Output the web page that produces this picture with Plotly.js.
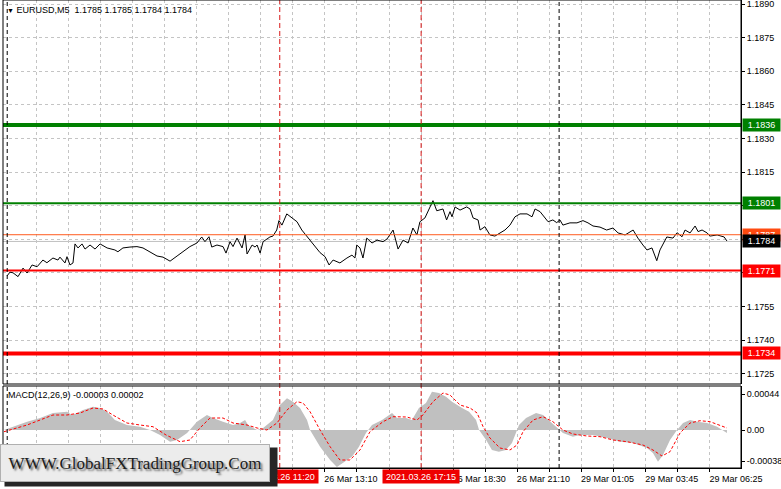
<!DOCTYPE html>
<html><head><meta charset="utf-8">
<script src="https://cdn.plot.ly/plotly-3.0.1.min.js"></script>
<style>html,body{margin:0;padding:0;background:#fff;overflow:hidden}#chart{width:781px;height:489px}</style>
</head><body><div id="chart"></div>
<script>
// ---------- data ----------
// price line (bar index, close)
const priceBars = [1.5,3.0,4.5,7.0,9.5,11.5,14.0,16.5,19.4,21.4,
24.4,26.9,27.9,30.4,31.4,32.9,34.4,35.4,36.9,38.9,
40.4,42.9,45.4,47.9,51.4,55.3,56.8,59.3,62.8,66.3,
69.3,72.8,76.3,79.3,82.8,86.3,89.3,92.7,96.2,98.6,
100.2,102.2,103.6,106.2,109.2,110.7,112.7,114.2,116.2,118.7,
120.2,121.2,123.7,125.2,126.2,127.7,129.2,132.6,134.1,136.0,
137.1,138.6,141.0,143.6,146.1,148.5,151.1,153.6,155.9,157.6,
160.1,162.1,164.1,167.5,171.0,173.5,175.0,175.9,177.5,179.0,
180.9,183.5,186.0,189.0,191.0,194.0,196.5,199.0,201.5,203.9,
205.9,207.4,209.9,212.4,213.9,215.8,218.9,220.7,222.4,223.4,
224.9,227.4,230.7,232.4,233.9,236.4,237.4,239.8,242.3,244.8,
247.3,249.8,252.3,254.8,257.3,260.8,263.3,264.8,267.3,269.8,
271.3,273.7,275.6,277.2,278.7,282.2,285.7,288.7,291.2,293.7,
297.2,300.5,303.7,306.2,309.7,313.7,316.1,318.6,320.6,323.1,
325.5,327.1,330.5,333.6,335.6,338.1,339.6,342.1,344.6,346.1,
348.1,350.6,352.1,355.6,357.1,359.1,360.5];
const priceClose = [1.17686,1.17703,1.17700,1.17683,1.17721,1.17699,1.17735,1.17727,1.17757,1.17745,
1.17766,1.17757,1.17770,1.17744,1.17772,1.17735,1.17744,1.17829,1.17811,1.17829,
1.17806,1.17824,1.17806,1.17829,1.17811,1.17802,1.17794,1.17811,1.17815,1.17817,
1.17811,1.17794,1.17775,1.17770,1.17752,1.17775,1.17794,1.17817,1.17833,1.17860,
1.17839,1.17861,1.17815,1.17824,1.17817,1.17788,1.17839,1.17817,1.17855,1.17811,
1.17869,1.17784,1.17824,1.17815,1.17824,1.17788,1.17839,1.17860,1.17864,1.17891,
1.17933,1.17913,1.17963,1.17945,1.17928,1.17891,1.17861,1.17833,1.17811,1.17790,
1.17772,1.17735,1.17757,1.17744,1.17766,1.17779,1.17766,1.17824,1.17811,1.17766,
1.17855,1.17833,1.17846,1.17839,1.17851,1.17891,1.17806,1.17846,1.17833,1.17900,
1.17869,1.17928,1.17945,1.17995,1.18022,1.17977,1.17985,1.17936,1.17973,1.17950,
1.17994,1.17980,1.17994,1.17985,1.17945,1.17936,1.17891,1.17906,1.17869,1.17864,
1.17878,1.17891,1.17913,1.17950,1.17963,1.17963,1.17950,1.17985,1.17973,1.17945,
1.17928,1.17936,1.17924,1.17936,1.17913,1.17923,1.17923,1.17933,1.17923,1.17909,
1.17904,1.17891,1.17900,1.17878,1.17869,1.17891,1.17855,1.17824,1.17802,1.17811,
1.17754,1.17802,1.17860,1.17855,1.17879,1.17861,1.17891,1.17878,1.17909,1.17884,
1.17891,1.17878,1.17864,1.17869,1.17864,1.17860,1.17842];

// MACD histogram
const histBars = [0,4.5,11.5,18.0,24.4,31.4,33.9,36.4,39.4,44.4,
47.9,51.4,55.3,61.3,67.8,72.8,77.8,82.8,86.3,91.3,
96.2,101.2,104.2,109.2,114.2,117.7,120.2,121.7,126.2,129.2,
134.1,137.6,141.1,144.1,147.6,151.1,152.6,157.6,162.6,166.0,
173.5,177.0,180.5,183.5,188.5,193.5,196.0,200.5,203.4,206.9,
210.4,213.4,216.9,220.4,223.4,228.4,231.9,235.4,236.9,240.4,
243.3,246.8,250.3,253.3,255.3,256.8,260.3,265.3,268.8,272.3,
275.8,278.7,283.7,287.2,293.7,300.7,307.2,313.7,320.6,323.6,
326.1,328.6,332.1,335.6,338.6,342.1,345.6,350.6,355.6,360.5];
const histValues = [0,3.3e-5,8.3e-5,12e-5,17e-5,18.3e-5,15e-5,17e-5,20e-5,23.3e-5,
22e-5,18.3e-5,10e-5,5e-5,3.3e-5,0,-5e-5,-11.7e-5,-10e-5,-3e-5,
8.3e-5,15e-5,12e-5,8.3e-5,5e-5,7e-5,10e-5,5e-5,0,2e-5,
10e-5,25e-5,31.7e-5,28.3e-5,22e-5,10e-5,0,-16.7e-5,-30e-5,-37e-5,
-26.7e-5,-16.7e-5,-3e-5,5e-5,10e-5,17e-5,12e-5,12e-5,10e-5,22e-5,
27e-5,38.3e-5,37e-5,33.3e-5,28.3e-5,22e-5,18.3e-5,10e-5,0,-10e-5,
-20e-5,-21.7e-5,-20e-5,-13e-5,-3e-5,5e-5,12e-5,17e-5,15e-5,8.3e-5,
2e-5,-3e-5,-6.7e-5,-5e-5,-5e-5,-8e-5,-11.7e-5,-13e-5,-18e-5,-23e-5,
-31.7e-5,-25e-5,-10e-5,0,7e-5,10e-5,8.3e-5,7e-5,3.3e-5,-3e-5];

// MACD signal
const sigBars = [0,4.5,11.5,18.0,24.4,31.4,37.9,44.4,49.4,54.3,
61.3,67.8,74.3,80.8,87.8,92.7,97.7,102.7,109.2,114.2,
121.2,126.2,131.1,136.1,141.1,146.1,149.1,152.6,157.6,162.6,
167.5,172.5,177.5,182.5,189.0,194.0,200.9,205.9,208.9,213.9,
218.9,222.4,227.4,232.4,235.9,238.9,242.3,247.3,252.3,255.8,
258.8,263.8,268.8,273.7,278.7,283.7,290.7,297.2,303.7,310.7,
318.6,323.6,328.1,332.1,337.1,342.1,347.1,352.1,357.1,360.5];
const sigValues = [-1.7e-5,1e-5,5e-5,10e-5,15e-5,15e-5,17e-5,22e-5,21e-5,15e-5,
7e-5,5e-5,3.3e-5,-5e-5,-11.7e-5,-10e-5,2e-5,12e-5,12e-5,7e-5,
5e-5,2e-5,0,7e-5,20e-5,28.3e-5,27e-5,18.3e-5,0,-16.7e-5,
-30e-5,-30e-5,-20e-5,-1.7e-5,8.3e-5,13.3e-5,13e-5,10e-5,15e-5,28.3e-5,
37e-5,35e-5,25e-5,22e-5,17e-5,3.3e-5,-8e-5,-18e-5,-20e-5,-15e-5,
-1.7e-5,10e-5,13.3e-5,8.3e-5,0,-4e-5,-6e-5,-6.7e-5,-10e-5,-11.7e-5,
-15e-5,-20e-5,-26e-5,-21.7e-5,-3e-5,7e-5,9.3e-5,8.3e-5,5e-5,2e-5];

// horizontal levels
const levelPrices = [1.1836, 1.1801, 1.1771, 1.1734];
const levelLabels = ['1.1836', '1.1801', '1.1771', '1.1734'];
const askPrice = 1.1787, askLabel = '1.1787';
const bidPrice = 1.1784, bidLabel = '1.1784';

// price axis ticks (labels hidden under the level boxes are left blank)
const priceTicks = [1.1725,1.1740,1.1755,1.1770,1.1785,1.1800,1.1815,1.1830,1.1845,1.1860,1.1875,1.1890];
const priceTickText = ['1.1725','1.1740','1.1755','','','','1.1815','1.1830','1.1845','1.1860','1.1875','1.1890'];
// MACD axis labels
const macdTickText = ['0.00044','0.00','-0.00038'];

// time axis
const timeLabelBars = [160, 224, 256, 288, 320, 352];
const timeLabels = ['26 Mar 13:10','26 Mar 18:30','26 Mar 21:10','29 Mar 01:05','29 Mar 03:45','29 Mar 06:25'];
const markerBars = [137.5, 208];
const markerLabels = ['2021.03.26 11:20','2021.03.26 17:15'];
const daySeparatorBars = [1.6, 276.8];

const titleText = 'EURUSD,M5\u00a0\u00a01.1785 1.1785 1.1784 1.1784';
const macdText = 'MACD(12,26,9) -0.00003 0.00002';
const watermarkText = 'WWW.GlobalFXTradingGroup.Com';

// ---------- layout helpers ----------
const L = 3, R = 40, T = 0, B = 21, PW = 781 - L - R, PH = 489 - T - B;
const px2x = p => (p - L) / PW;
const px2y = p => (PH - (p - T)) / PH;
const FONT = 'Liberation Sans, Arial, sans-serif';

// grid ticks every 16 bars
const gridVals = [], gridText = [];
for (let b = 16; b <= 352; b += 16) {
  gridVals.push(b);
  const i = timeLabelBars.indexOf(b);
  gridText.push(i >= 0 ? timeLabels[i] : '');
}

const traces = [
  {x: histBars, y: histValues, xaxis: 'x', yaxis: 'y2', type: 'scatter', mode: 'lines',
   fill: 'tozeroy', fillcolor: '#c0c0c0', line: {width: 0, color: '#c0c0c0'}},
  {x: sigBars, y: sigValues, xaxis: 'x', yaxis: 'y2', type: 'scatter', mode: 'lines',
   line: {width: 1, color: '#ff0000', dash: '3px,2px'}},
  {x: priceBars, y: priceClose, xaxis: 'x', yaxis: 'y', type: 'scatter', mode: 'lines',
   line: {width: 1, color: '#000000'}}
];

const shapes = [];
shapes.push({type: 'line', xref: 'paper', x0: 0, x1: 1, yref: 'y', y0: bidPrice, y1: bidPrice, line: {color: '#c0c0c0', width: 1}, layer: 'below'});
shapes.push({type: 'line', xref: 'paper', x0: 0, x1: 1, yref: 'y', y0: askPrice, y1: askPrice, line: {color: '#ff5a1e', width: 1}});
const levelColors = ['#008000', '#008000', '#ff0000', '#ff0000'];
const levelWidths = [4, 2, 2, 4];
levelPrices.forEach((p, i) => shapes.push({type: 'line', xref: 'paper', x0: 0, x1: 1, yref: 'y', y0: p, y1: p,
  line: {color: levelColors[i], width: levelWidths[i]}}));
markerBars.forEach(b => shapes.push({type: 'line', xref: 'x', x0: b, x1: b, yref: 'paper', y0: 0, y1: 1,
  line: {color: '#d81818', width: 1, dash: '5px,3px'}}));
daySeparatorBars.forEach(b => shapes.push({type: 'line', xref: 'x', x0: b, x1: b, yref: 'paper', y0: 0, y1: 1,
  line: {color: '#000000', width: 1, dash: '4px,3px'}}));
shapes.push({type: 'rect', xref: 'paper', x0: 0, x1: 1, yref: 'y domain', y0: 0, y1: 1, line: {color: '#000', width: 1}});
shapes.push({type: 'rect', xref: 'paper', x0: 0, x1: 1, yref: 'y2 domain', y0: 0, y1: 1, line: {color: '#000', width: 1}});

const annotations = [];
annotations.push({xref: 'paper', yref: 'paper', x: px2x(5), y: px2y(10), xanchor: 'left', yanchor: 'middle', showarrow: false,
  text: '<span style="font-size:7px">▼</span> ' + titleText, font: {family: FONT, size: 9, color: '#000'}});
annotations.push({xref: 'paper', yref: 'paper', x: px2x(6), y: px2y(395), xanchor: 'left', yanchor: 'middle', showarrow: false,
  text: macdText, font: {family: FONT, size: 9, color: '#000'}});
const levelBg = ['#008000', '#008000', '#ff0000', '#ff0000'];
function priceBox(p, t, bg) {
  annotations.push({xref: 'paper', yref: 'y', x: 1, y: p, xanchor: 'left', yanchor: 'middle', xshift: 1, showarrow: false,
    text: t, bgcolor: bg, borderpad: 1, width: 35, height: 10, align: 'center',
    font: {family: FONT, size: 9, color: '#ffffff'}});
}
levelPrices.forEach((p, i) => priceBox(p, levelLabels[i], levelBg[i]));
priceBox(askPrice, askLabel, '#ff4a10');
priceBox(bidPrice, bidLabel, '#000000');
markerBars.forEach((b, i) => annotations.push({xref: 'x', yref: 'paper', x: b, y: px2y(476), xanchor: 'center', yanchor: 'middle',
  showarrow: false, text: markerLabels[i], bgcolor: '#ee0000', borderpad: 1, width: 74, height: 11,
  font: {family: FONT, size: 9, color: '#ffffff'}}));
// watermark
annotations.push({xref: 'paper', yref: 'paper', x: px2x(141), y: px2y(467), xanchor: 'center', yanchor: 'middle', showarrow: false,
  text: ' ', bgcolor: '#262626', width: 272, height: 38, borderpad: 0});
annotations.push({xref: 'paper', yref: 'paper', x: px2x(135), y: px2y(463), xanchor: 'center', yanchor: 'middle', showarrow: false,
  text: watermarkText, bgcolor: '#ececec', bordercolor: '#b0b0b0', borderwidth: 1, width: 268, height: 36, borderpad: 0,
  font: {family: 'Liberation Serif, Times New Roman, serif', size: 17, color: '#1c1c1c', shadow: '2px 2px 2px rgba(0,0,0,0.55)'}});

const layout = {
  width: 781, height: 489,
  margin: {l: L, r: R, t: T, b: B, pad: 0},
  paper_bgcolor: '#ffffff', plot_bgcolor: '#ffffff',
  showlegend: false, hovermode: false,
  xaxis: {range: [-0.5, 367.5], anchor: 'y2', showgrid: true, gridcolor: '#c4c4c4', griddash: '3px,3px', gridwidth: 1,
    zeroline: false, showline: true, linecolor: '#000', linewidth: 1,
    tickmode: 'array', tickvals: gridVals, ticktext: gridText, ticks: 'outside', ticklen: 3, tickcolor: '#000',
    tickangle: 0, ticklabelshift: 26, ticklabelstandoff: -1, tickfont: {family: FONT, size: 9, color: '#000'}},
  yaxis: {domain: [px2y(384), 1], range: [1.172036, 1.189179], side: 'right', anchor: 'x',
    showgrid: true, gridcolor: '#c4c4c4', griddash: '3px,3px', zeroline: false, ticklabeloverflow: 'allow',
    showline: true, linecolor: '#000', tickmode: 'array', tickvals: priceTicks, ticktext: priceTickText,
    ticks: 'outside', ticklen: 3, tickcolor: '#000', tickfont: {family: FONT, size: 9, color: '#000'}},
  yaxis2: {domain: [0, px2y(386)], range: [-0.00038, 0.00044], side: 'right', anchor: 'x',
    showgrid: false, zeroline: false, showline: true, linecolor: '#000', tickmode: 'array', ticklabeloverflow: 'allow',
    tickvals: [0.00036, 0, -0.00031], ticktext: macdTickText,
    ticks: 'outside', ticklen: 3, tickcolor: '#000', tickfont: {family: FONT, size: 9, color: '#000'}},
  shapes: shapes, annotations: annotations
};

Plotly.newPlot('chart', traces, layout, {staticPlot: true, displayModeBar: false});
</script></body></html>
